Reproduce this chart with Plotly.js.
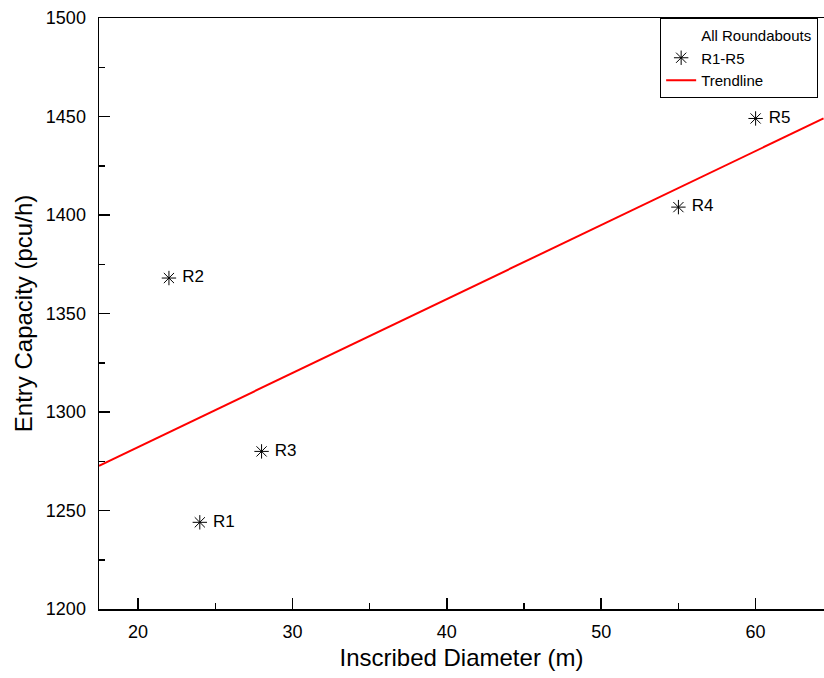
<!DOCTYPE html>
<html>
<head>
<meta charset="utf-8">
<script src="https://cdn.plot.ly/plotly-3.0.1.min.js"></script>
<style>html,body{margin:0;padding:0;background:#fff;}#chart{width:824px;height:678px;}</style>
</head>
<body>
<div id="chart"></div>
<script>
// Data
const labels = ["R1", "R2", "R3", "R4", "R5"];
const diameter = [24, 22, 28, 55, 60];          // Inscribed Diameter (m)
const capacity = [1244, 1368, 1280, 1404, 1449]; // Entry Capacity (pcu/h)
const trendX = [17.47, 64.4];
const trendY = [1272.7, 1449];
const xTicks = [20, 30, 40, 50, 60];
const yTicks = [1200, 1250, 1300, 1350, 1400, 1450, 1500];

const FONT = "Arial, 'Liberation Sans', sans-serif";

const traces = [
  {
    x: [null], y: [null], mode: "markers", name: "All Roundabouts",
    marker: {color: "rgba(0,0,0,0)", size: 1}, hoverinfo: "skip"
  },
  {
    x: diameter, y: capacity, text: labels.map(s => " " + s), name: "R1-R5",
    mode: "markers+text", textposition: "middle right",
    textfont: {family: FONT, size: 17, color: "#000"},
    marker: {symbol: "asterisk-open", size: 12, color: "#000", line: {color: "#000", width: 1}}
  },
  {
    x: trendX, y: trendY, mode: "lines", name: "Trendline",
    line: {color: "#ff0000", width: 2}
  }
];

const layout = {
  width: 824, height: 678,
  margin: {l: 99, r: 0, t: 18, b: 69, autoexpand: false},
  paper_bgcolor: "#fff", plot_bgcolor: "#fff",
  font: {family: FONT, color: "#000"},
  showlegend: true,
  legend: {
    x: 0.774, xanchor: "left", y: 1, yanchor: "top",
    bgcolor: "#fff", bordercolor: "#000", borderwidth: 1,
    font: {family: FONT, size: 15, color: "#000"},
    tracegroupgap: 0
  },
  xaxis: {
    range: [17.47, 64.43],
    tickvals: xTicks, ticktext: xTicks.map(String),
    ticks: "inside", ticklen: 11, tickwidth: 1.5, tickcolor: "#000",
    minor: {dtick: 5, ticks: "inside", ticklen: 6, tickwidth: 1.5, tickcolor: "#000"},
    showline: true, linecolor: "#000", linewidth: 1.5, mirror: true,
    showgrid: false, zeroline: false, ticklabelstandoff: 6,
    tickfont: {family: FONT, size: 18, color: "#000"},
    title: {text: "Inscribed Diameter (m)", font: {family: FONT, size: 24, color: "#000"}, standoff: 8}
  },
  yaxis: {
    range: [1200, 1500],
    tickvals: yTicks, ticktext: yTicks.map(String),
    ticks: "inside", ticklen: 11, tickwidth: 1.5, tickcolor: "#000",
    minor: {dtick: 25, ticks: "inside", ticklen: 6, tickwidth: 1.5, tickcolor: "#000"},
    showline: true, linecolor: "#000", linewidth: 1.5, mirror: false,
    showgrid: false, zeroline: false, ticklabelstandoff: 8,
    tickfont: {family: FONT, size: 18, color: "#000"},
    title: {text: "Entry Capacity (pcu/h)", font: {family: FONT, size: 24, color: "#000"}, standoff: 6}
  }
};

Plotly.newPlot("chart", traces, layout, {displayModeBar: false, staticPlot: true});
</script>
</body>
</html>
